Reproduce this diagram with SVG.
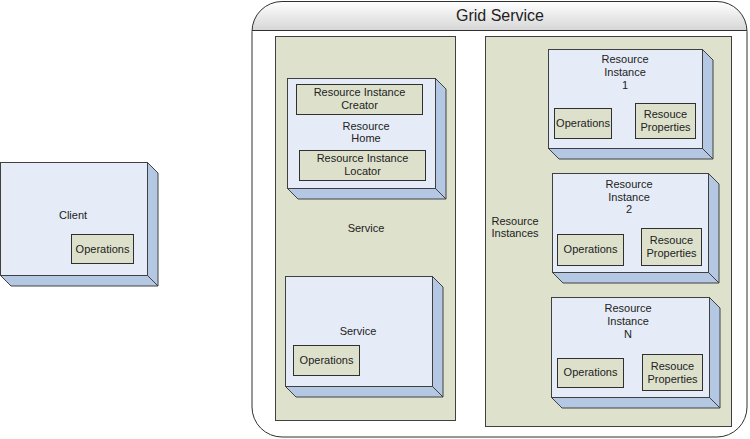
<svg xmlns="http://www.w3.org/2000/svg" width="750" height="439" viewBox="0 0 750 439">
<defs>
<linearGradient id="hdr" x1="0" y1="0" x2="0" y2="1">
<stop offset="0" stop-color="#ffffff"/>
<stop offset="1" stop-color="#d6d6d6"/>
</linearGradient>
<clipPath id="gclip"><rect x="252" y="1.5" width="495" height="435.5" rx="30" ry="30"/></clipPath>
</defs>
<style>
text{font-family:"Liberation Sans",Arial,sans-serif;font-size:11px;fill:#222;text-anchor:middle}
.title{font-size:16px}
.front{fill:#e6ecf7;stroke:#404040;stroke-width:1}
.side{fill:#b4c7e3;stroke:#404040;stroke-width:1;stroke-linejoin:round}
.inner{fill:#dde1cc;stroke:#303030;stroke-width:1}
.panel{fill:#dee1cc;stroke:#404040;stroke-width:1}
</style>
<g id="grid-service">
<rect x="252" y="1.5" width="495" height="435.5" rx="30" ry="30" fill="#ffffff"/>
<rect x="252" y="1.5" width="495" height="29" fill="url(#hdr)" clip-path="url(#gclip)"/>
<line x1="252" y1="30.5" x2="747" y2="30.5" stroke="#303030"/>
<rect x="252" y="1.5" width="495" height="435.5" rx="30" ry="30" fill="none" stroke="#303030"/>
<text class="title" x="500" y="21">Grid Service</text>
</g>
<g id="client">
<polygon class="side" points="147.5,162.5 158,173 158,286 147.5,275.5"/>
<polygon class="side" points="0.5,275.5 147.5,275.5 158,286 11,286"/>
<rect class="front" x="0.5" y="162.5" width="147" height="113"/>
<text x="73" y="219">Client</text>
<g id="client-operations">
<rect class="inner" x="71.5" y="234.5" width="62" height="29"/>
<text x="102.5" y="253">Operations</text>
</g>
</g>
<g id="service-panel">
<rect class="panel" x="275.5" y="36.5" width="180" height="384"/>
<text x="366" y="232">Service</text>
</g>
<g id="resource-home">
<polygon class="side" points="435.5,78.5 446,89 446,199 435.5,188.5"/>
<polygon class="side" points="287.5,188.5 435.5,188.5 446,199 298,199"/>
<rect class="front" x="287.5" y="78.5" width="148" height="110"/>
<text x="366" y="130">Resource</text>
<text x="366" y="142">Home</text>
<g id="creator">
<rect class="inner" x="296.5" y="84.5" width="126" height="30"/>
<text x="359.5" y="96">Resource Instance</text>
<text x="359.5" y="109">Creator</text>
</g>
<g id="locator">
<rect class="inner" x="299.5" y="150.5" width="126" height="30"/>
<text x="362.5" y="162">Resource Instance</text>
<text x="362.5" y="175">Locator</text>
</g>
</g>
<g id="service">
<polygon class="side" points="432.5,276.5 443,287 443,397 432.5,386.5"/>
<polygon class="side" points="285.5,386.5 432.5,386.5 443,397 296,397"/>
<rect class="front" x="285.5" y="276.5" width="147" height="110"/>
<text x="358" y="335">Service</text>
<g id="service-operations">
<rect class="inner" x="293.5" y="345.5" width="66" height="30"/>
<text x="326.5" y="364">Operations</text>
</g>
</g>
<g id="instances-panel">
<rect class="panel" x="485.5" y="36.5" width="246" height="390"/>
<text x="515" y="225">Resource</text>
<text x="515" y="237">Instances</text>
</g>
<g id="instance-1">
<polygon class="side" points="702.5,49.5 713,60 713,159 702.5,148.5"/>
<polygon class="side" points="548.5,148.5 702.5,148.5 713,159 559,159"/>
<rect class="front" x="548.5" y="49.5" width="154" height="99"/>
<text x="625" y="63">Resource</text>
<text x="625" y="76">Instance</text>
<text x="625" y="89">1</text>
<g id="instance-1-operations">
<rect class="inner" x="554.5" y="108.5" width="57" height="30"/>
<text x="583" y="127">Operations</text>
</g>
<g id="instance-1-properties">
<rect class="inner" x="635.5" y="103.5" width="60" height="35"/>
<text x="665.5" y="118">Resouce</text>
<text x="665.5" y="131">Properties</text>
</g>
</g>
<g id="instance-2">
<polygon class="side" points="708.5,173.5 719,184 719,283 708.5,272.5"/>
<polygon class="side" points="552.5,272.5 708.5,272.5 719,283 563,283"/>
<rect class="front" x="552.5" y="173.5" width="156" height="99"/>
<text x="629" y="188">Resource</text>
<text x="629" y="201">Instance</text>
<text x="629" y="213">2</text>
<g id="instance-2-operations">
<rect class="inner" x="557.5" y="234.5" width="66" height="31"/>
<text x="590.5" y="253">Operations</text>
</g>
<g id="instance-2-properties">
<rect class="inner" x="641.5" y="228.5" width="60" height="37"/>
<text x="671.5" y="244">Resouce</text>
<text x="671.5" y="257">Properties</text>
</g>
</g>
<g id="instance-n">
<polygon class="side" points="709.5,297.5 720,308 720,408 709.5,397.5"/>
<polygon class="side" points="551.5,397.5 709.5,397.5 720,408 562,408"/>
<rect class="front" x="551.5" y="297.5" width="158" height="100"/>
<text x="628" y="312">Resource</text>
<text x="628" y="325">Instance</text>
<text x="628" y="338">N</text>
<g id="instance-n-operations">
<rect class="inner" x="557.5" y="358.5" width="66" height="29"/>
<text x="590.5" y="376">Operations</text>
</g>
<g id="instance-n-properties">
<rect class="inner" x="642.5" y="354.5" width="60" height="36"/>
<text x="672.5" y="370">Resouce</text>
<text x="672.5" y="383">Properties</text>
</g>
</g>
<g id="connectors"/>
</svg>
